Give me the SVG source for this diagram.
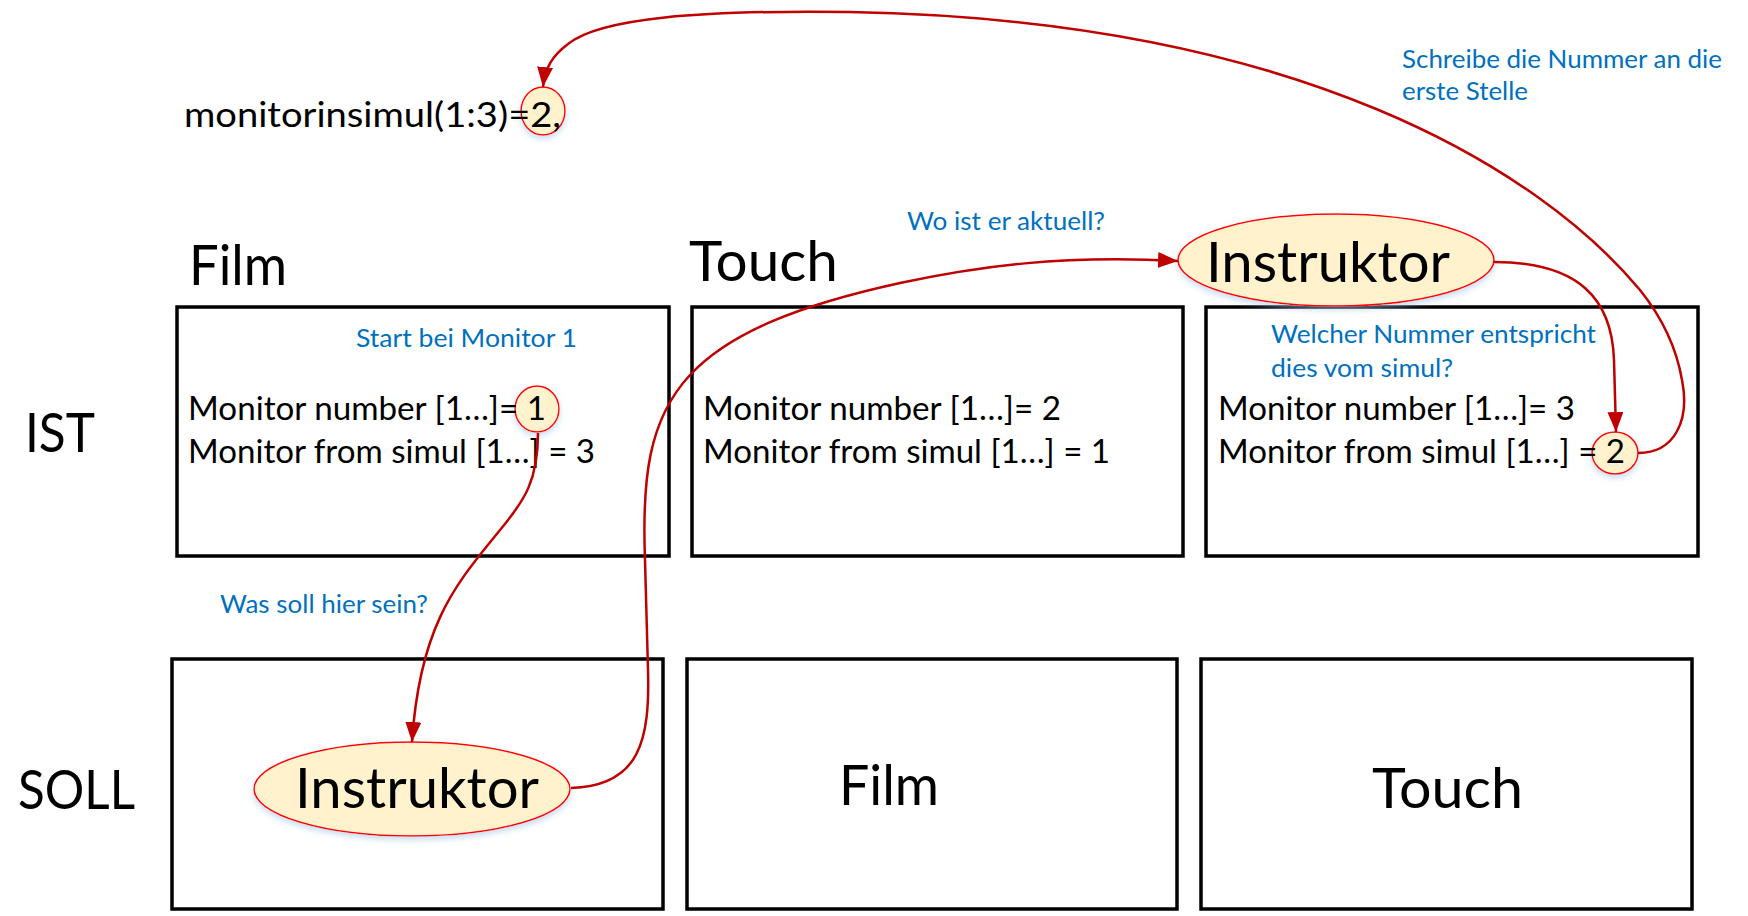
<svg xmlns="http://www.w3.org/2000/svg" width="1748" height="916" viewBox="0 0 1748 916">
<style>
  text{lengthAdjust:spacingAndGlyphs}
  .box{fill:none;stroke:#000;stroke-width:3.5}
  .big{font-family:Lato,"Open Sans",sans-serif;font-size:56px;fill:#000}
  .lbl{font-family:Lato,"Open Sans",sans-serif;font-size:54px;fill:#000}
  .mon{font-family:Lato,"Open Sans",sans-serif;font-size:32px;fill:#000}
  .frm{font-family:Lato,"Open Sans",sans-serif;font-size:34px;fill:#000}
  .note{font-family:Lato,"Open Sans",sans-serif;font-size:24.5px;fill:#0070C0}
  .hl{fill:#FFF2CC;stroke:#FF0000;stroke-width:1.5;filter:url(#glow)}
  .conn{fill:none;stroke:#C00000;stroke-width:2.5}
</style>
<defs>
  <marker id="arr" markerUnits="userSpaceOnUse" markerWidth="20" markerHeight="16" refX="20" refY="8" orient="auto">
    <path d="M0,0 L20,8 L0,16 z" fill="#C00000"/>
  </marker>
  <filter id="glow" x="-20%" y="-20%" width="140%" height="150%">
    <feDropShadow dx="0" dy="3" stdDeviation="3" flood-color="#9DC3E6" flood-opacity="0.6"/>
  </filter>
</defs>
<rect width="1748" height="916" fill="#fff"/>

<g id="formula">
  <ellipse class="hl" cx="543" cy="111" rx="22" ry="24"/>
  <text class="frm" x="184" y="127" textLength="377" lengthAdjust="spacingAndGlyphs">monitorinsimul(1:3)=2,</text>
</g>
<g id="note-schreibe">
  <text class="note" x="1402" y="68" textLength="320" lengthAdjust="spacingAndGlyphs">Schreibe die Nummer an die</text>
  <text class="note" x="1402" y="100" textLength="126" lengthAdjust="spacingAndGlyphs">erste Stelle</text>
</g>
<g id="label-film"><text class="big" x="189" y="285" textLength="98" lengthAdjust="spacingAndGlyphs">Film</text></g>
<g id="label-touch"><text class="big" x="689" y="281" textLength="149" lengthAdjust="spacingAndGlyphs">Touch</text></g>
<g id="label-ist"><text class="lbl" x="25" y="452" textLength="70" lengthAdjust="spacingAndGlyphs">IST</text></g>
<g id="label-soll"><text class="lbl" x="18" y="809" textLength="117" lengthAdjust="spacingAndGlyphs">SOLL</text></g>
<g id="note-wo"><text class="note" x="907" y="230" textLength="198" lengthAdjust="spacingAndGlyphs">Wo ist er aktuell?</text></g>

<g id="ist-film">
  <rect class="box" x="177" y="307" width="492" height="249"/>
  <text class="note" x="356" y="347" textLength="221" lengthAdjust="spacingAndGlyphs">Start bei Monitor 1</text>
  <ellipse class="hl" cx="537" cy="409" rx="22" ry="23"/>
  <text class="mon" x="188" y="420" textLength="358" lengthAdjust="spacingAndGlyphs">Monitor number [1…]= 1</text>
  <text class="mon" x="188" y="463" textLength="407" lengthAdjust="spacingAndGlyphs">Monitor from simul [1…] = 3</text>
</g>
<g id="ist-touch">
  <rect class="box" x="692" y="307" width="491" height="249"/>
  <text class="mon" x="703" y="420" textLength="358" lengthAdjust="spacingAndGlyphs">Monitor number [1…]= 2</text>
  <text class="mon" x="703" y="463" textLength="407" lengthAdjust="spacingAndGlyphs">Monitor from simul [1…] = 1</text>
</g>
<g id="ist-instruktor">
  <rect class="box" x="1206" y="307" width="492" height="249"/>
  <text class="note" x="1271" y="343" textLength="325" lengthAdjust="spacingAndGlyphs">Welcher Nummer entspricht</text>
  <text class="note" x="1271" y="377" textLength="182" lengthAdjust="spacingAndGlyphs">dies vom simul?</text>
  <ellipse class="hl" cx="1615" cy="453" rx="23" ry="21"/>
  <text class="mon" x="1218" y="420" textLength="357" lengthAdjust="spacingAndGlyphs">Monitor number [1…]= 3</text>
  <text class="mon" x="1218" y="463" textLength="407" lengthAdjust="spacingAndGlyphs">Monitor from simul [1…] = 2</text>
</g>
<g id="instruktor-top">
  <ellipse class="hl" cx="1336" cy="260" rx="158" ry="46"/>
  <text class="big" x="1206" y="282" textLength="244" lengthAdjust="spacingAndGlyphs">Instruktor</text>
</g>

<g id="note-was"><text class="note" x="220" y="613" textLength="208" lengthAdjust="spacingAndGlyphs">Was soll hier sein?</text></g>

<g id="soll-instruktor">
  <rect class="box" x="172" y="659" width="491" height="250"/>
  <ellipse class="hl" cx="412" cy="789" rx="158" ry="47"/>
  <text class="big" x="295" y="808" textLength="244" lengthAdjust="spacingAndGlyphs">Instruktor</text>
</g>
<g id="soll-film">
  <rect class="box" x="687" y="659" width="490" height="250"/>
  <text class="big" x="839" y="805" textLength="100" lengthAdjust="spacingAndGlyphs">Film</text>
</g>
<g id="soll-touch">
  <rect class="box" x="1201" y="659" width="491" height="250"/>
  <text class="big" x="1372" y="808" textLength="151" lengthAdjust="spacingAndGlyphs">Touch</text>
</g>

<g id="connectors">
  <path class="conn" marker-end="url(#arr)" d="M538 433 C538 480 525 500 500 530 C460 580 420 620 412 742"/>
  <path class="conn" marker-end="url(#arr)" d="M571 788 C640 786 650 740 648 670 L645 560 C642 480 648 420 690 375 C730 332 800 305 900 283 C980 266 1060 255 1178 261"/>
  <path class="conn" marker-end="url(#arr)" d="M1494 262 C1580 262 1612 300 1614 360 L1616 432"/>
  <path class="conn" marker-end="url(#arr)" d="M1638 453 C1675 453 1690 420 1682 380 C1676 345 1660 315 1640 290 C1540 170 1300 20 850 12 C700 10 600 18 568 44 C552 56 545 68 543 87"/>
</g>
</svg>
